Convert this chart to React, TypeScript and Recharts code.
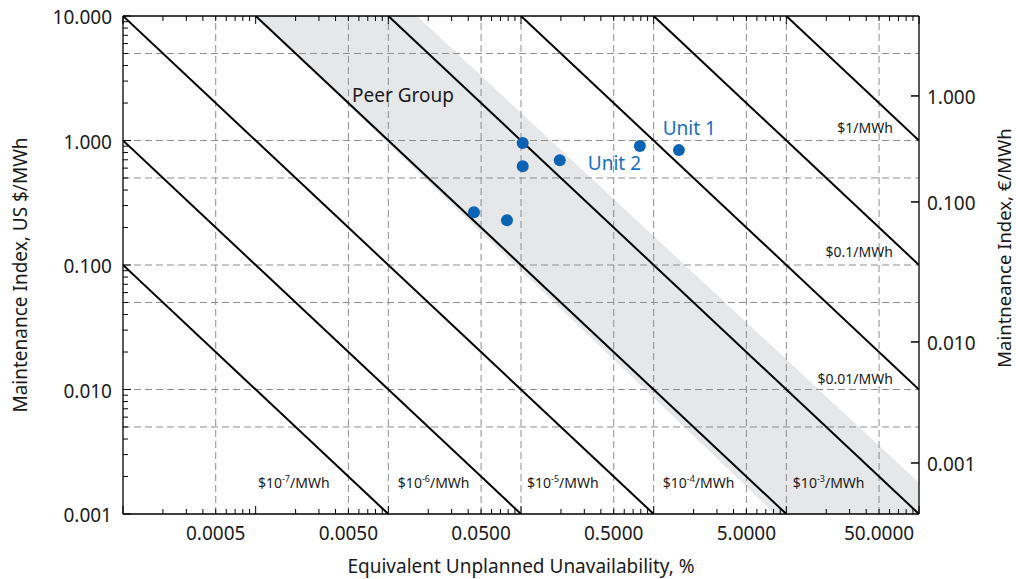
import React from 'react';
import {
  ComposedChart,
  XAxis,
  YAxis,
  Area,
  Line,
  Scatter,
  ReferenceLine,
  ReferenceDot
} from 'recharts';

const FONT = '"Noto Sans", sans-serif';
const TEXT = '#1a1a1a';
const BLUE = '#0b63b3';

// units: x = equivalent unplanned unavailability (%), y = maintenance index (US $/MWh)
const unitX = [0.0442, 0.0784, 0.103, 0.103, 0.196, 0.787, 1.55];
const unitY = [0.265, 0.229, 0.953, 0.622, 0.695, 0.902, 0.837];

// peer group band (lower and upper edge, continued past the frame)
const bandX = [0.0001, 100];
const bandLow = [104, 0.000078];
const bandHigh = [1570, 0.00178];

// constant cost lines
const isoStartX = [0.0001, 0.0001, 0.0001, 0.001, 0.01, 0.1, 1, 10];
const isoStartY = [0.1, 1, 10, 10, 10, 10, 10, 10];
const isoEndX = [0.01, 0.1, 1, 10, 100, 100, 100, 100];
const isoEndY = [0.001, 0.001, 0.001, 0.001, 0.001, 0.01, 0.1, 1];

const isoBottomExp = ['-7', '-6', '-5', '-4', '-3'];
const isoBottomX = [0.00104, 0.0118, 0.111, 1.17, 11.2];
const isoBottomY = 0.00162;
const isoRightText = ['$1/MWh', '$0.1/MWh', '$0.01/MWh'];
const isoRightX = 63.5;
const isoRightY = [1.149, 0.116, 0.01107];

const noteText = ['Peer Group', 'Unit 1', 'Unit 2'];
const noteX = [0.00532, 1.17, 0.319];
const noteY = [2.04, 1.107, 0.579];
const noteColor = [TEXT, '#1a6ec0', '#1a6ec0'];

// axes
const xDecades = [0.0001, 0.001, 0.01, 0.1, 1, 10, 100];
const yDecades = [0.001, 0.01, 0.1, 1, 10];
const minorSteps = [1, 2, 3, 4, 5, 6, 7, 8, 9];
const xLabelValues = [0.0005, 0.005, 0.05, 0.5, 5, 50];
const xLabelText = ['0.0005', '0.0050', '0.0500', '0.5000', '5.0000', '50.0000'];
const yLabelValues = [10, 1, 0.1, 0.01, 0.001];
const yLabelText = ['10.000', '1.000', '0.100', '0.010', '0.001'];
// euro axis ticks, placed on the US $ scale
const euroTickValues = [2.28, 0.321, 0.0241, 0.00257];
const euroTickText = ['1.000', '0.100', '0.010', '0.001'];

const xGrid = [0.0005, 0.005, 0.01, 0.05, 0.1, 0.5, 1, 5, 10, 50];
const yGrid = [5, 1, 0.5, 0.1, 0.05, 0.01, 0.005];

const withMinors = (decades: number[]) =>
  decades.flatMap((d, i) => (i === decades.length - 1 ? [d] : minorSteps.map((m) => d * m)));
const xTicks = withMinors(xDecades);
const yTicks = withMinors(yDecades);

const near = (a: number, b: number) => Math.abs(a - b) <= Math.abs(b) * 1e-6;

const bandData = bandX.map((x, i) => ({ x, band: [bandLow[i], bandHigh[i]] }));
const unitData = unitX.map((x, i) => ({ x, y: unitY[i] }));

const BottomTick = ({ x, y, payload }: any) => {
  const v = payload.value;
  const i = xLabelValues.findIndex((l) => near(v, l));
  const major = xDecades.some((d) => near(v, d));
  return (
    <g>
      <line x1={x} x2={x} y1={y} y2={y - (major ? 8 : 5)} stroke="#000" />
      {i >= 0 && (
        <text x={x} y={y + 26} textAnchor="middle" fontSize={19} fill={TEXT} fontFamily={FONT}>
          {xLabelText[i]}
        </text>
      )}
    </g>
  );
};

const TopTick = ({ x, y, payload }: any) => {
  const major = xDecades.some((d) => near(payload.value, d));
  return <line x1={x} x2={x} y1={y} y2={y + (major ? 8 : 5)} stroke="#000" />;
};

const LeftTick = ({ x, y, payload }: any) => {
  const v = payload.value;
  const i = yLabelValues.findIndex((l) => near(v, l));
  return (
    <g>
      <line x1={x} x2={x + (i >= 0 ? 8 : 5)} y1={y} y2={y} stroke="#000" />
      {i >= 0 && (
        <text x={x - 11} y={y + 8} textAnchor="end" fontSize={19} fill={TEXT} fontFamily={FONT}>
          {yLabelText[i]}
        </text>
      )}
    </g>
  );
};

const RightTick = ({ x, y, payload }: any) => {
  const i = euroTickValues.findIndex((l) => near(payload.value, l));
  return (
    <g>
      <line x1={x - 8} x2={x} y1={y} y2={y} stroke="#000" strokeWidth={1.5} />
      <text x={x + 8} y={y + 8} textAnchor="start" fontSize={19} fill={TEXT} fontFamily={FONT}>
        {euroTickText[i]}
      </text>
    </g>
  );
};

const App = () => {
  return (
    <div style={{ position: 'absolute', left: 0, top: 0, width: 1016, height: 579, background: '#fff' }}>
      <ComposedChart width={1016} height={579} data={bandData} margin={{ top: 0, right: 0, bottom: 0, left: 0 }}>
        <XAxis
          dataKey="x"
          type="number"
          scale="log"
          domain={[0.0001, 100]}
          allowDataOverflow
          ticks={xTicks}
          interval={0}
          tick={<BottomTick />}
          tickLine={false}
          tickSize={0}
          tickMargin={0}
          height={65}
          axisLine={{ stroke: '#000', strokeWidth: 1.3 }}
          label={{
            content: ({ viewBox }: any) => (
              <text
                x={viewBox.x + viewBox.width / 2}
                y={viewBox.y + viewBox.height - 6}
                textAnchor="middle"
                fontSize={19}
                fill={TEXT}
                fontFamily={FONT}
              >
                Equivalent Unplanned Unavailability, %
              </text>
            )
          }}
        />
        <XAxis
          xAxisId="top"
          orientation="top"
          dataKey="x"
          type="number"
          scale="log"
          domain={[0.0001, 100]}
          allowDataOverflow
          ticks={xTicks}
          interval={0}
          tick={<TopTick />}
          tickLine={false}
          tickSize={0}
          tickMargin={0}
          height={16}
          axisLine={{ stroke: '#000', strokeWidth: 1.3 }}
        />
        <YAxis
          dataKey="y"
          type="number"
          scale="log"
          domain={[0.001, 10]}
          allowDataOverflow
          ticks={yTicks}
          interval={0}
          tick={<LeftTick />}
          tickLine={false}
          tickSize={0}
          tickMargin={0}
          width={123}
          axisLine={{ stroke: '#000', strokeWidth: 1.3 }}
          label={{
            content: ({ viewBox }: any) => {
              const cx = viewBox.x + 20;
              const cy = viewBox.y + viewBox.height / 2 + 10;
              return (
                <text
                  x={cx}
                  y={cy}
                  transform={`rotate(-90 ${cx} ${cy})`}
                  textAnchor="middle"
                  dominantBaseline="central"
                  fontSize={19}
                  fill={TEXT}
                  fontFamily={FONT}
                >
                  Maintenance Index, US $/MWh
                </text>
              );
            }
          }}
        />
        <YAxis
          yAxisId="right"
          orientation="right"
          type="number"
          scale="log"
          domain={[0.001, 10]}
          allowDataOverflow
          ticks={euroTickValues}
          interval={0}
          tick={<RightTick />}
          tickLine={false}
          tickSize={0}
          tickMargin={0}
          width={97}
          axisLine={{ stroke: '#000', strokeWidth: 1.3 }}
          label={{
            content: ({ viewBox }: any) => {
              const cx = viewBox.x + 84;
              const cy = viewBox.y + 232;
              return (
                <text
                  x={cx}
                  y={cy}
                  transform={`rotate(-90 ${cx} ${cy})`}
                  textAnchor="middle"
                  dominantBaseline="central"
                  fontSize={18.5}
                  fill={TEXT}
                  fontFamily={FONT}
                >
                  Maintneance Index, €/MWh
                </text>
              );
            }
          }}
        />

        <Area
          type="linear"
          dataKey="band"
          fill="#e6e7e9"
          fillOpacity={1}
          stroke="none"
          isAnimationActive={false}
          activeDot={false}
        />

        {xGrid.map((v) => (
          <ReferenceLine key={`gx${v}`} x={v} stroke="#8f8f8f" strokeDasharray="7 4" />
        ))}
        {yGrid.map((v) => (
          <ReferenceLine key={`gy${v}`} y={v} stroke="#8f8f8f" strokeDasharray="7 4" />
        ))}

        {isoStartX.map((x0, i) => (
          <Line
            key={`iso${i}`}
            data={[
              { x: x0, y: isoStartY[i] },
              { x: isoEndX[i], y: isoEndY[i] }
            ]}
            dataKey="y"
            type="linear"
            stroke="#000"
            strokeWidth={2}
            dot={false}
            activeDot={false}
            isAnimationActive={false}
          />
        ))}

        <Scatter
          data={unitData}
          dataKey="y"
          fill={BLUE}
          isAnimationActive={false}
          shape={(p: any) => <circle cx={p.cx} cy={p.cy} r={6} fill={BLUE} />}
        />

        {isoBottomX.map((x, i) => (
          <ReferenceDot
            key={`ib${i}`}
            x={x}
            y={isoBottomY}
            r={0}
            shape={(p: any) => (
              <text x={p.cx} y={p.cy} textAnchor="start" fontSize={14} fill={TEXT} fontFamily={FONT}>
                <tspan>$10</tspan>
                <tspan dy={-6} fontSize={9}>{isoBottomExp[i]}</tspan>
                <tspan dy={6}>/MWh</tspan>
              </text>
            )}
          />
        ))}
        {isoRightY.map((y, i) => (
          <ReferenceDot
            key={`ir${i}`}
            x={isoRightX}
            y={y}
            r={0}
            shape={(p: any) => (
              <text x={p.cx} y={p.cy} textAnchor="end" fontSize={14} fill={TEXT} fontFamily={FONT}>
                {isoRightText[i]}
              </text>
            )}
          />
        ))}
        {noteText.map((t, i) => (
          <ReferenceDot
            key={`n${i}`}
            x={noteX[i]}
            y={noteY[i]}
            r={0}
            shape={(p: any) => (
              <text x={p.cx} y={p.cy} textAnchor="start" fontSize={19} fill={noteColor[i]} fontFamily={FONT}>
                {t}
              </text>
            )}
          />
        ))}
      </ComposedChart>
    </div>
  );
};

export default App;
